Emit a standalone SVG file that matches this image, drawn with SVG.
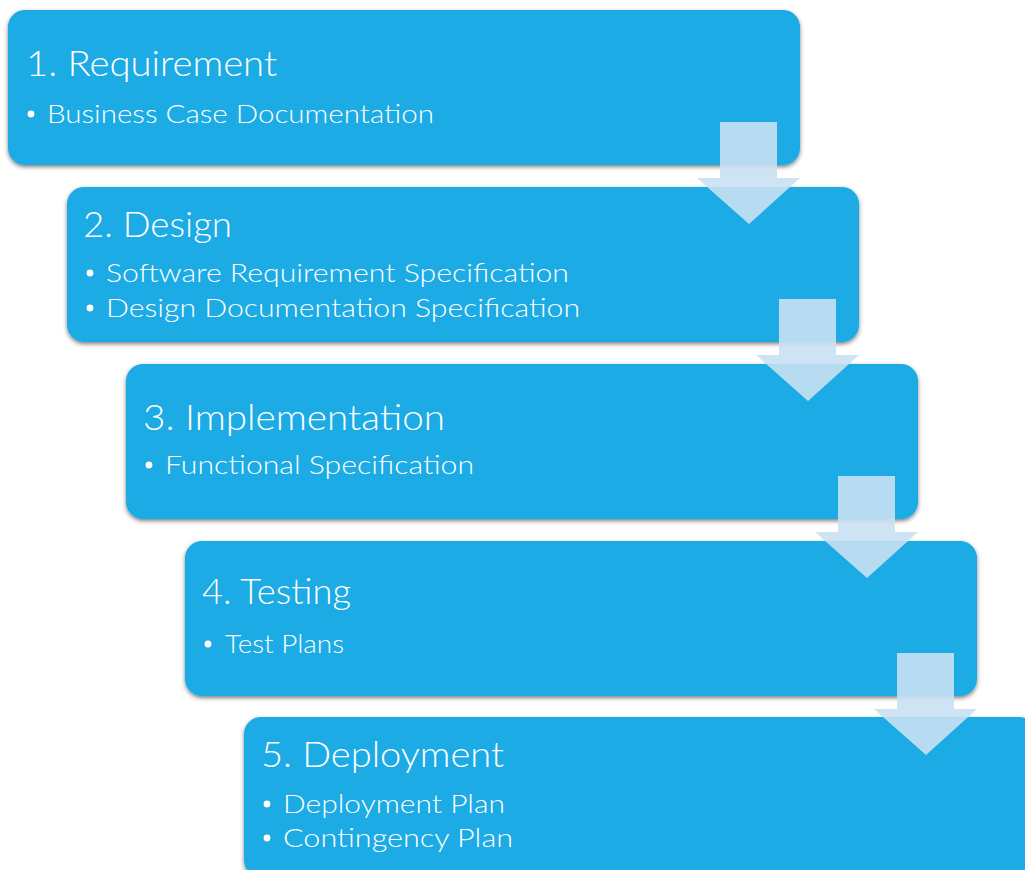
<svg xmlns="http://www.w3.org/2000/svg" width="1025" height="870" viewBox="0 0 1025 870">
<defs>
<filter id="sh" x="-5%" y="-10%" width="110%" height="125%">
<feDropShadow dx="0" dy="2" stdDeviation="2" flood-color="#000" flood-opacity="0.5"/>
</filter>
<path id="arr" d="M720 122 H777 V178 H800 L749 224 L697 178 H720 Z"/>
</defs>
<style>
.box{fill:#1aabe4;filter:url(#sh)}
.t{font-family:Lato,"DejaVu Sans",sans-serif;font-weight:300;fill:#fff;font-size:35px}
.b{font-family:Lato,"DejaVu Sans",sans-serif;font-weight:300;fill:#fff;font-size:26px}
.arrow{fill:#c9e1f3;fill-opacity:0.9}
</style>
<rect width="1025" height="870" fill="#fff"/>
<g id="node1">
<rect class="box" x="8" y="10" width="792" height="155" rx="17"/>
<text class="t" x="26" y="76" textLength="251" lengthAdjust="spacingAndGlyphs">1. Requirement</text>
<circle cx="31" cy="114" r="3.4" fill="#fff"/>
<text class="b" x="47" y="123" textLength="387" lengthAdjust="spacingAndGlyphs">Business Case Documentation</text>
</g>
<g id="node2">
<rect class="box" x="67" y="187" width="792" height="155" rx="17"/>
<text class="t" x="83" y="237" textLength="149" lengthAdjust="spacingAndGlyphs">2. Design</text>
<circle cx="90" cy="273" r="3.4" fill="#fff"/>
<text class="b" x="106" y="282" textLength="463" lengthAdjust="spacingAndGlyphs">Software Requirement Specification</text>
<circle cx="90" cy="308" r="3.4" fill="#fff"/>
<text class="b" x="106" y="317" textLength="474" lengthAdjust="spacingAndGlyphs">Design Documentation Specification</text>
</g>
<g id="node3">
<rect class="box" x="126" y="364" width="792" height="155" rx="17"/>
<text class="t" x="143" y="430" textLength="302" lengthAdjust="spacingAndGlyphs">3. Implementation</text>
<circle cx="149" cy="465" r="3.4" fill="#fff"/>
<text class="b" x="165" y="474" textLength="309" lengthAdjust="spacingAndGlyphs">Functional Specification</text>
</g>
<g id="node4">
<rect class="box" x="185" y="541" width="792" height="155" rx="17"/>
<text class="t" x="202" y="604" textLength="149" lengthAdjust="spacingAndGlyphs">4. Testing</text>
<circle cx="208" cy="644" r="3.4" fill="#fff"/>
<text class="b" x="225" y="653" textLength="119" lengthAdjust="spacingAndGlyphs">Test Plans</text>
</g>
<g id="node5">
<rect class="box" x="244" y="717" width="792" height="160" rx="17"/>
<text class="t" x="261" y="767" textLength="243" lengthAdjust="spacingAndGlyphs">5. Deployment</text>
<circle cx="267" cy="804" r="3.4" fill="#fff"/>
<text class="b" x="283" y="813" textLength="222" lengthAdjust="spacingAndGlyphs">Deployment Plan</text>
<circle cx="267" cy="838" r="3.4" fill="#fff"/>
<text class="b" x="283" y="847" textLength="230" lengthAdjust="spacingAndGlyphs">Contingency Plan</text>
</g>
<g id="connectors">
<use href="#arr" class="arrow"/>
<use href="#arr" class="arrow" transform="translate(59 177)"/>
<use href="#arr" class="arrow" transform="translate(118 354)"/>
<use href="#arr" class="arrow" transform="translate(177 531)"/>
</g>
</svg>
